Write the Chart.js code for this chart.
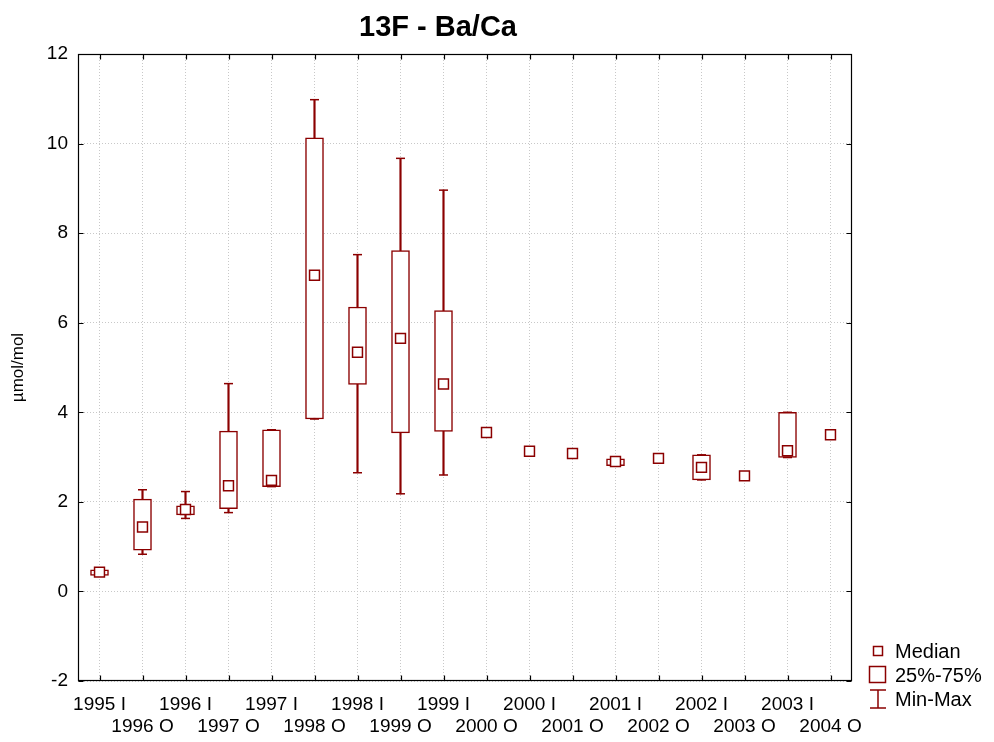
<!DOCTYPE html>
<html lang="en">
<head>
<meta charset="UTF-8">
<title>13F - Ba/Ca</title>
<style>
  body { margin: 0; background: #fff; }
  #chart { display: block; }
</style>
<script src="https://cdn.jsdelivr.net/npm/chart.js"></script>
</head>
<body>
<canvas id="chart" width="994" height="742"></canvas>
<script>
  const categories = ['1995 I', '1996 O', '1996 I', '1997 O', '1997 I', '1998 O', '1998 I', '1999 O', '1999 I',
    '2000 O', '2000 I', '2001 O', '2001 I', '2002 O', '2002 I', '2003 O', '2003 I', '2004 O'];
  const minValues = [0.36, 0.83, 1.63, 1.76, 2.34, 3.85, 2.65, 2.18, 2.60, 3.55, 3.13, 3.08, 2.81, 2.97, 2.49, 2.58, 2.99, 3.50];
  const q1Values = [0.36, 0.92, 1.71, 1.85, 2.34, 3.85, 4.62, 3.54, 3.57, 3.55, 3.13, 3.08, 2.81, 2.97, 2.49, 2.58, 2.99, 3.50];
  const medianValues = [0.43, 1.44, 1.83, 2.36, 2.48, 7.06, 5.34, 5.65, 4.63, 3.55, 3.13, 3.08, 2.90, 2.97, 2.77, 2.58, 3.14, 3.50];
  const q3Values = [0.48, 2.06, 1.91, 3.58, 3.61, 10.13, 6.35, 7.61, 6.27, 3.55, 3.13, 3.08, 2.96, 2.97, 3.05, 2.58, 4.00, 3.50];
  const maxValues = [0.48, 2.27, 2.23, 4.64, 3.61, 10.98, 7.52, 9.67, 8.96, 3.55, 3.13, 3.08, 2.96, 2.97, 3.05, 2.58, 4.00, 3.50];
  const yTicks = [-2, 0, 2, 4, 6, 8, 10, 12];
  const legendLabels = ['Median', '25%-75%', 'Min-Max'];

  const darkRed = '#8b0000';
  const family = "'Liberation Sans', Arial, sans-serif";

  // frame, inward tick marks, title and the small legend in the corner
  const framePlugin = {
    id: 'framePlugin',
    afterDraw(chart) {
      const ctx = chart.ctx;
      const a = chart.chartArea;
      const xs = chart.scales.x;
      const ys = chart.scales.y;
      const L = Math.round(a.left) + 0.5, R = Math.round(a.right) - 0.5;
      const T = Math.round(a.top) + 0.5, B = Math.round(a.bottom) - 0.5;
      ctx.save();
      ctx.strokeStyle = '#000';
      ctx.lineWidth = 1.2;
      ctx.strokeRect(L, T, R - L, B - T);
      ctx.beginPath();
      yTicks.forEach(v => {
        const py = Math.round(ys.getPixelForValue(v)) + 0.5;
        ctx.moveTo(L, py); ctx.lineTo(L + 5, py);
        ctx.moveTo(R, py); ctx.lineTo(R - 5, py);
      });
      categories.forEach((c, i) => {
        const px = Math.round(xs.getPixelForValue(i)) + 0.5;
        ctx.moveTo(px, B); ctx.lineTo(px, B - 5);
        ctx.moveTo(px, T); ctx.lineTo(px, T + 5);
      });
      ctx.stroke();

      ctx.fillStyle = '#000';
      ctx.font = 'bold 29px ' + family;
      ctx.textAlign = 'center';
      ctx.textBaseline = 'alphabetic';
      ctx.fillText('13F - Ba/Ca', 438, 36);

      // legend
      ctx.strokeStyle = darkRed;
      ctx.lineWidth = 1.5;
      ctx.strokeRect(873.5, 646.5, 9, 9);
      ctx.strokeRect(869.5, 666.5, 16, 16);
      ctx.beginPath();
      ctx.moveTo(878, 690); ctx.lineTo(878, 708);
      ctx.moveTo(870, 690); ctx.lineTo(886, 690);
      ctx.moveTo(870, 708); ctx.lineTo(886, 708);
      ctx.stroke();
      ctx.fillStyle = '#000';
      ctx.font = '20px ' + family;
      ctx.textAlign = 'left';
      ctx.textBaseline = 'middle';
      ctx.fillText(legendLabels[0], 895, 652);
      ctx.fillText(legendLabels[1], 895, 676);
      ctx.fillText(legendLabels[2], 895, 700);
      ctx.restore();
    }
  };

  const ctx = document.getElementById('chart').getContext('2d');
  const chart = new Chart(ctx, {
    type: 'bar',
    data: {
      labels: categories,
      datasets: [
        {
          type: 'bar',
          label: 'Min-Max',
          data: categories.map((c, i) => [minValues[i], maxValues[i]]),
          backgroundColor: darkRed,
          borderWidth: 0,
          barThickness: 1.5,
          grouped: false,
          order: 4
        },
        {
          type: 'bar',
          label: '25%-75%',
          data: categories.map((c, i) => [q1Values[i], q3Values[i]]),
          backgroundColor: '#fff',
          borderColor: darkRed,
          borderWidth: 1.5,
          borderSkipped: false,
          barThickness: 18,
          grouped: false,
          order: 3
        },
        {
          type: 'line',
          label: 'Max',
          data: maxValues,
          showLine: false,
          pointStyle: 'line',
          pointRadius: 4.5,
          pointBorderColor: darkRed,
          pointBorderWidth: 1.5,
          order: 2
        },
        {
          type: 'line',
          label: 'Min',
          data: minValues,
          showLine: false,
          pointStyle: 'line',
          pointRadius: 4.5,
          pointBorderColor: darkRed,
          pointBorderWidth: 1.5,
          order: 2
        },
        {
          type: 'line',
          label: 'Median',
          data: medianValues,
          showLine: false,
          pointStyle: 'rect',
          pointRadius: 7,
          pointBackgroundColor: '#fff',
          pointBorderColor: darkRed,
          pointBorderWidth: 1.5,
          order: 1
        }
      ]
    },
    options: {
      responsive: false,
      animation: false,
      layout: { padding: { top: 54, right: 142, left: 0, bottom: 0 } },
      plugins: {
        legend: { display: false },
        tooltip: { enabled: false }
      },
      scales: {
        x: {
          offset: true,
          grid: { offset: false, color: '#c8c8c8', drawTicks: false },
          border: { display: false, dash: [1, 2] },
          ticks: {
            autoSkip: false,
            maxRotation: 0,
            minRotation: 0,
            color: '#000',
            padding: 12,
            font: { family: family, size: 19, lineHeight: 1.2 },
            callback: (v, i) => i % 2 === 0 ? [categories[i], ''] : ['', categories[i]]
          },
          afterFit(s) { s.height = 61; }
        },
        y: {
          min: -2,
          max: 12,
          grid: { color: '#c8c8c8', drawTicks: false },
          border: { display: false, dash: [1, 2] },
          ticks: {
            stepSize: 2,
            color: '#000',
            padding: 10,
            font: { family: family, size: 19 }
          },
          title: {
            display: true,
            text: 'µmol/mol',
            color: '#000',
            padding: { top: 8, bottom: 0 },
            font: { family: family, size: 17 }
          },
          afterFit(s) { s.width = 78; }
        }
      }
    },
    plugins: [framePlugin]
  });
</script>
</body>
</html>
